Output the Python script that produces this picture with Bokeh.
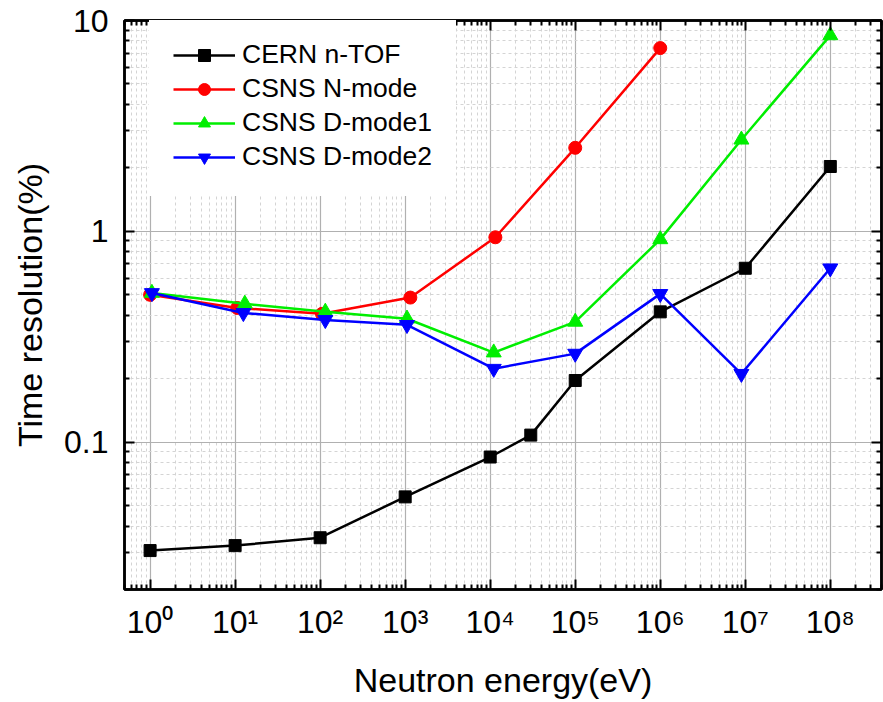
from bokeh.plotting import figure
from bokeh.models import (LogAxis, FixedTicker, CustomJSTickFormatter, Legend,
                          LegendItem, Range1d)
from bokeh.embed import file_html
from bokeh.resources import INLINE

# ---------------- data ----------------
cern_x = [1, 10, 100, 1000, 1e4, 3e4, 1e5, 1e6, 1e7, 1e8]
cern_y = [0.0306, 0.0323, 0.0352, 0.055, 0.085, 0.108, 0.196, 0.415, 0.668, 2.03]

nmode_x = [1.0, 10.6, 105, 1150, 1.15e4, 1e5, 1e6]
nmode_y = [0.50, 0.433, 0.406, 0.485, 0.937, 2.49, 7.4]

d1_x = [1.05, 13, 115, 1050, 1.1e4, 1e5, 1e6, 9e6, 1e8]
d1_y = [0.51, 0.453, 0.415, 0.385, 0.266, 0.372, 0.916, 2.72, 8.5]

d2_x = [1.05, 12.5, 115, 1050, 1.1e4, 1e5, 1e6, 9e6, 1e8]
d2_y = [0.51, 0.41, 0.38, 0.36, 0.223, 0.263, 0.505, 0.211, 0.668]

series_names = ["CERN n-TOF", "CSNS N-mode", "CSNS D-mode1", "CSNS D-mode2"]

x_major = [10.0 ** e for e in range(0, 9)]
x_minor = [k * 10.0 ** e for e in range(-1, 9) for k in range(2, 10)]
y_major = [0.1, 1, 10]
y_minor = [k * 10.0 ** e for e in range(-2, 1) for k in range(2, 10)]

FONT = "Liberation Sans"

p = figure(width=883, height=702, x_axis_type="log", y_axis_type="log",
           x_range=Range1d(0.5, 4e8), y_range=Range1d(0.02, 10),
           output_backend="svg", toolbar_location=None,
           min_border_left=124, min_border_top=20, min_border_right=2,
           min_border_bottom=113)

p.background_fill_color = "white"
p.border_fill_color = "white"
p.outline_line_color = "black"
p.outline_line_width = 2.5

xt = FixedTicker(ticks=x_major, minor_ticks=x_minor)
yt = FixedTicker(ticks=y_major, minor_ticks=y_minor)

xfmt = CustomJSTickFormatter(code="""
const sup = {"0":"\u2070","1":"\u00b9","2":"\u00b2","3":"\u00b3","4":"\u2074",
             "5":"\u2075","6":"\u2076","7":"\u2077","8":"\u2078","9":"\u2079","-":"\u207b"};
const e = Math.round(Math.log10(tick));
return "10" + String(e).split("").map(c => sup[c]).join("");
""")
yfmt = CustomJSTickFormatter(code="""
const e = Math.round(Math.log10(tick));
return e >= 0 ? String(Math.pow(10, e)) : (Math.pow(10, e)).toFixed(-e);
""")
blank = CustomJSTickFormatter(code="return '';")

def style_axis(ax, ticker):
    ax.ticker = ticker
    ax.axis_line_width = 2.5
    ax.axis_line_color = "black"
    ax.major_tick_in = 10
    ax.major_tick_out = 0
    ax.minor_tick_in = 5
    ax.minor_tick_out = 0
    ax.major_tick_line_width = 2
    ax.minor_tick_line_width = 2
    ax.major_tick_line_color = "black"
    ax.minor_tick_line_color = "black"
    ax.major_label_text_font = FONT
    ax.major_label_text_color = "black"
    ax.axis_label_text_font = FONT
    ax.axis_label_text_font_style = "normal"
    ax.axis_label_text_color = "black"

xa = p.xaxis[0]
style_axis(xa, xt)
xa.formatter = xfmt
xa.major_label_text_font_size = "32px"
xa.major_label_standoff = 14
xa.axis_label = "Neutron energy(eV)"
xa.axis_label_text_font_size = "34px"
xa.axis_label_standoff = 18

ya = p.yaxis[0]
style_axis(ya, yt)
ya.formatter = yfmt
ya.major_label_text_font_size = "32px"
ya.major_label_standoff = 16
ya.axis_label = "Time resolution(%)"
ya.axis_label_text_font_size = "34px"
ya.axis_label_standoff = 12

top_ax = LogAxis()
style_axis(top_ax, xt)
top_ax.formatter = blank
top_ax.major_label_text_font_size = "2px"
top_ax.major_label_standoff = 0
p.add_layout(top_ax, "above")

right_ax = LogAxis()
style_axis(right_ax, yt)
right_ax.formatter = blank
right_ax.major_label_text_font_size = "2px"
right_ax.major_label_standoff = 0
p.add_layout(right_ax, "right")

for g, t in ((p.xgrid[0], xt), (p.ygrid[0], yt)):
    g.ticker = t
    g.grid_line_color = "#b0b0b0"
    g.grid_line_width = 1.2
    g.minor_grid_line_color = "#d4d4d4"
    g.minor_grid_line_dash = "3 3"
    g.minor_grid_line_width = 1

items = []
specs = [
    (cern_x, cern_y, "black", "square", 12),
    (nmode_x, nmode_y, "red", "circle", 13),
    (d1_x, d1_y, "#00ee00", "triangle", 15),
    (d2_x, d2_y, "blue", "inverted_triangle", 15),
]
for name, (xs, ys, col, mk, sz) in zip(series_names, specs):
    lr = p.line(xs, ys, line_color=col, line_width=2.5)
    sr = p.scatter(xs, ys, marker=mk, size=sz, fill_color=col, line_color=col)
    items.append(LegendItem(label=name, renderers=[lr, sr]))

legend = Legend(items=items, location=(25, 393))
legend.background_fill_color = "white"
legend.background_fill_alpha = 1.0
legend.border_line_alpha = 0
legend.padding = 24
legend.spacing = 3
legend.glyph_width = 62
legend.glyph_height = 30
legend.label_height = 30
legend.label_standoff = 7
legend.label_text_font = FONT
legend.label_text_font_size = "26.5px"
legend.label_text_color = "black"
legend.margin = 0
p.add_layout(legend)

open("out.html", "w").write(file_html(p, INLINE))
